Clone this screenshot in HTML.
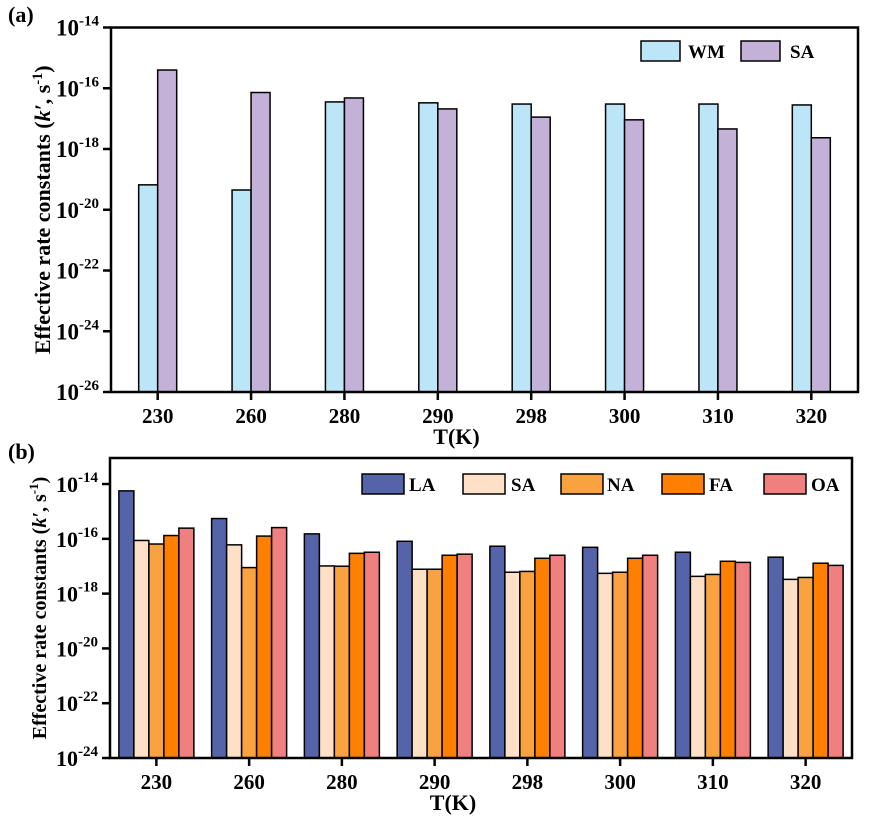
<!DOCTYPE html>
<html><head><meta charset="utf-8">
<style>
body{margin:0;background:#fff;}
svg{display:block;}
svg text{font-family:"Liberation Serif","Times New Roman","DejaVu Serif",serif;font-weight:bold;}
</style></head>
<body>
<svg id="chart" width="869" height="829" viewBox="0 0 869 829"></svg>
<script>
// Panel (a) data: log10 values
const catsA = ["230","260","280","290","298","300","310","320"];
const wmA = [-19.18,-19.35,-16.45,-16.48,-16.52,-16.52,-16.52,-16.55];
const saA = [-15.4,-16.14,-16.32,-16.68,-16.95,-17.04,-17.34,-17.63];
const ticksA = [-26,-24,-22,-20,-18,-16,-14];
// Panel (b) data
const catsB = ["230","260","280","290","298","300","310","320"];
const laB = [-14.25,-15.26,-15.82,-16.09,-16.27,-16.31,-16.49,-16.67];
const saB = [-16.06,-16.22,-16.99,-17.11,-17.22,-17.26,-17.37,-17.48];
const naB = [-16.19,-17.05,-17.0,-17.11,-17.19,-17.22,-17.3,-17.41];
const faB = [-15.88,-15.90,-16.53,-16.6,-16.71,-16.71,-16.82,-16.89];
const oaB = [-15.61,-15.59,-16.49,-16.56,-16.6,-16.6,-16.86,-16.97];
const ticksB = [-24,-22,-20,-18,-16,-14];

const svg=document.getElementById('chart');
const NS='http://www.w3.org/2000/svg';
const FF='"Liberation Serif","Times New Roman","DejaVu Serif",serif';
function mk(tag,attrs,parent){const e=document.createElementNS(NS,tag);for(const k in attrs)e.setAttribute(k,attrs[k]);if(tag==='text'){e.setAttribute('font-family',FF);e.setAttribute('font-weight','bold');}(parent||svg).appendChild(e);return e;}

function panel(o){
  const g=mk('g',{});
  
  
  const {x0,x1,y0,y1,lmin,lmax}=o;
  const yS=v=>y1-(v-lmin)/(lmax-lmin)*(y1-y0);
  const n=o.cats.length, step=(x1-x0)/n;
  const xC=i=>x0+step*(i+0.5);
  const ns=o.series.length, gw=o.bw*ns;
  o.series.forEach((s,si)=>{
    s.vals.forEach((v,i)=>{
      const x=xC(i)-gw/2+si*o.bw;
      const r=mk('rect',{x:x,y:yS(v),width:o.bw,height:y1-yS(v),fill:s.color,stroke:'#000','stroke-width':1.5},g);
      
      
    });
  });
  const fr=mk('rect',{x:x0,y:y0,width:x1-x0,height:y1-y0,fill:'none',stroke:'#000','stroke-width':2.5},g);
  
  
  o.ticks.forEach(t=>{
    const y=yS(t);
    mk('line',{x1:x0-8,x2:x0,y1:y,y2:y,stroke:'#000','stroke-width':2.5},g);
    const tx=mk('text',{x:x0-12,y:y+8,'text-anchor':'end','font-size':o.tfs},g);
    
    
    tx.innerHTML='10<tspan dy="-10" font-size="15">'+t+'</tspan>';
  });
  o.cats.forEach((c,i)=>{
    mk('line',{x1:xC(i),x2:xC(i),y1:y1,y2:y1+8,stroke:'#000','stroke-width':2.5},g);
    const tx=mk('text',{x:xC(i),y:y1+31,'text-anchor':'middle','font-size':21},g);
    
    
    tx.textContent=c;
  });
  const xt=mk('text',{x:(x0+x1)/2-28,y:y1+52,'text-anchor':'middle','font-size':22},g);
  
  
  xt.textContent='T(K)';
  const yt=mk('text',{transform:'translate('+o.ytx+','+((y0+y1)/2)+') rotate(-90)','text-anchor':'middle','font-size':o.yfs},g);
  
  
  yt.innerHTML='Effective rate constants (<tspan font-style="italic">k\u2032</tspan>, s<tspan dy="-8" font-size="'+(o.yfs*0.65)+'">-1</tspan><tspan dy="8">)</tspan>';
  const pl=mk('text',{x:o.plx,y:o.ply,'font-size':22},g);
  
  
  pl.textContent=o.plabel;
  o.legend.forEach((L,i)=>{
    const s=o.series[i];
    const lr=mk('rect',{x:L[0],y:o.ly,width:o.lw,height:20,fill:s.color,stroke:'#000','stroke-width':1.5},g);
    
    
    const lt=mk('text',{x:L[1],y:o.ly+17,'font-size':19},g);
    
    
    lt.textContent=s.label;
  });
}

panel({name:'panel-a',x0:111,x1:858,y0:27.5,y1:392,lmin:-26,lmax:-14,cats:catsA,bw:19,
  series:[{label:'WM',vals:wmA,color:'#bde5f8'},{label:'SA',vals:saA,color:'#c3b1d7'}],
  ticks:ticksA,tfs:23,ytx:50,yfs:22,plabel:'(a)',plx:8,ply:22,ly:41,lw:39,legend:[[641,688],[741,790]]});
panel({name:'panel-b',x0:110,x1:852,y0:458,y1:758,lmin:-24,lmax:-13.05,cats:catsB,bw:15,
  series:[{label:'LA',vals:laB,color:'#5563a8'},{label:'SA',vals:saB,color:'#fde0c5'},{label:'NA',vals:naB,color:'#f9a240'},{label:'FA',vals:faB,color:'#ff7f00'},{label:'OA',vals:oaB,color:'#f08080'}],
  ticks:ticksB,tfs:22,ytx:46,yfs:20,plabel:'(b)',plx:8,ply:459,ly:474,lw:42,legend:[[362,409],[463,511],[561,607],[662,709],[764,811]]});
</script>
</body></html>
